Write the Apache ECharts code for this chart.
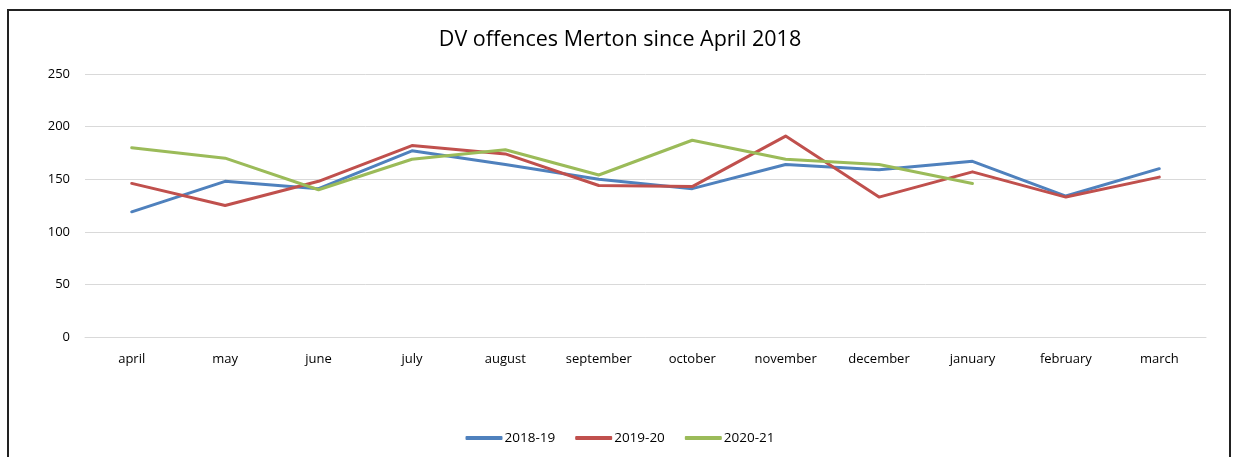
<!DOCTYPE html>
<html><head><meta charset="utf-8">
<script src="https://cdn.jsdelivr.net/npm/echarts@6/dist/echarts.min.js"></script>
<style>
html,body{margin:0;padding:0;background:#fff;}
#frame{position:absolute;left:7px;top:9px;width:1224px;height:460px;border:2px solid #222;box-sizing:border-box;}
#c{position:absolute;left:0;top:0;width:1240px;height:457px;}
</style></head>
<body>
<div id="frame"></div>
<div id="c"></div>
<script>
const categories = ['april','may','june','july','august','september','october','november','december','january','february','march'];
const s2018 = [119,148,141,177,164,150,141,164,159,167,134,160];
const s2019 = [146,125,148,182,174,144,143,191,133,157,133,152];
const s2020 = [180,170,140,169,178,154,187,169,164,146,null,null];
const seriesNames = ['2018-19','2019-20','2020-21'];
const colors = ['#4F81BD','#C0504D','#9BBB59'];
const font = '"Open Sans", Lato, sans-serif';

const chart = echarts.init(document.getElementById('c'));
const mk = (name, data, color) => ({
  name, type:'line', data, symbol:'none', smooth:false,
  lineStyle:{width:3, color, cap:'round', join:'round'}, itemStyle:{color},
  connectNulls:false
});
chart.setOption({
  animation:false,
  backgroundColor:'transparent',
  title:{text:'DV offences Merton since April 2018', left:'center', top:24,
    textStyle:{fontFamily:font, fontSize:21.5, fontWeight:'normal', color:'#000'}},
  legend:{bottom:7, left:'center', itemWidth:37, itemHeight:4, itemGap:20,
    icon:'roundRect',
    textStyle:{fontFamily:font, fontSize:13.5, color:'#000', padding:[0,0,0,-3]},
    data:seriesNames},
  grid:{left:85, right:34, top:74, bottom:120, containLabel:false},
  xAxis:{type:'category', data:categories, boundaryGap:true,
    axisLine:{show:true, lineStyle:{color:'#d9d9d9', width:1}},
    axisTick:{show:false},
    axisLabel:{fontFamily:font, fontSize:13, color:'#000', margin:16, interval:0}},
  yAxis:{type:'value', min:0, max:250, interval:50,
    axisLine:{show:false}, axisTick:{show:false},
    axisLabel:{fontFamily:font, fontSize:13, color:'#000', margin:15},
    splitLine:{lineStyle:{color:'#d9d9d9', width:1}}},
  series:[mk(seriesNames[0], s2018, colors[0]), mk(seriesNames[1], s2019, colors[1]), mk(seriesNames[2], s2020, colors[2])]
});
</script>
</body></html>
